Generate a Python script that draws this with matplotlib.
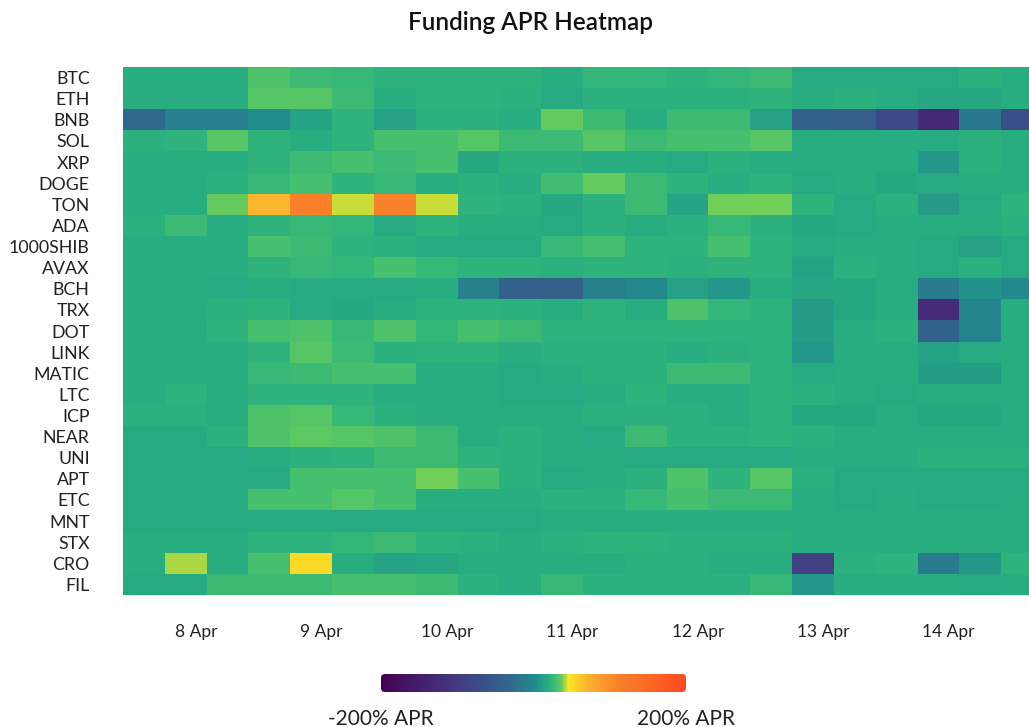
import numpy as np
import matplotlib
matplotlib.use("Agg")
import matplotlib.pyplot as plt
from matplotlib.colors import LinearSegmentedColormap, Normalize
from matplotlib.patches import FancyBboxPatch

plt.rcParams['font.family'] = ['Lato', 'DejaVu Sans']

# funding APR (%) per 8h funding window, 22 windows from 7 Apr 10:00
symbols = ['BTC', 'ETH', 'BNB', 'SOL', 'XRP', 'DOGE', 'TON', 'ADA', '1000SHIB',
           'AVAX', 'BCH', 'TRX', 'DOT', 'LINK', 'MATIC', 'LTC', 'ICP', 'NEAR',
           'UNI', 'APT', 'ETC', 'MNT', 'STX', 'CRO', 'FIL']

btc = [20, 20, 20, 32, 27, 25, 22, 22, 23, 22, 20, 24, 24, 22, 24, 27, 18, 18, 18, 18, 21, 20]
eth = [20, 20, 20, 33, 33, 27, 20, 22, 22, 21, 18, 21, 21, 21, 21, 22, 20, 21, 20, 16, 16, 19]
bnb = [-29, -9, -9, 2, 15, 22, 13, 21, 21, 19, 37, 27, 19, 27, 27, 13, -42, -44, -75, -128, -16, -70]
sol = [21, 22, 33, 22, 19, 22, 30, 30, 33, 28, 28, 33, 28, 30, 30, 33, 20, 20, 20, 19, 21, 20]
xrp = [20, 20, 20, 22, 28, 31, 27, 30, 17, 21, 21, 20, 19, 18, 21, 19, 20, 20, 20, 9, 21, 20]
doge = [20, 20, 21, 25, 30, 23, 25, 19, 21, 19, 29, 36, 27, 22, 20, 22, 18, 20, 17, 18, 20, 20]
ton = [20, 20, 36, 70, 112, 42.5, 110, 43, 22, 21, 16, 21, 28, 15, 38, 38, 23, 18, 21, 10, 18, 22]
ada = [21, 27, 20, 22, 26, 24, 18, 23, 19, 19, 18, 21, 19, 21, 26, 21, 17, 18, 20, 20, 20, 21]
shib1000 = [20, 20, 20, 31, 28, 22, 21, 18, 18, 18, 26, 30, 23, 22, 30, 22, 18, 19, 19, 18, 14, 18]
avax = [20, 20, 20, 22, 25, 24, 31, 26, 22, 22, 21, 23, 22, 21, 23, 23, 15, 21, 19, 18, 21, 18]
bch = [20, 20, 18, 19, 18, 18, 18, 19, -8, -40, -40, -7, -1, 13, 9, 20, 17, 16, 20, -12, 7, 1]
trx = [20, 20, 21, 22, 18, 17, 20, 22, 23, 21, 20, 22, 20, 32, 24, 22, 10, 17, 20, -124, -6, 20]
dot = [20, 20, 22, 31, 32, 26, 32, 24, 30, 27, 22, 22, 22, 23, 23, 22, 11, 19, 21, -38, -6, 20]
link = [20, 20, 20, 22, 34, 27, 21, 22, 22, 19, 21, 21, 21, 20, 21, 23, 8, 20, 20, 15, 18, 20]
matic = [20, 20, 20, 26, 27, 31, 31, 20, 20, 18, 20, 21, 21, 28, 28, 22, 18, 20, 20, 12, 12, 20]
ltc = [20, 22, 20, 22, 22, 23, 20, 19, 19, 18, 18, 20, 22, 19, 19, 23, 21, 19, 18, 20, 20, 20]
icp = [21, 21, 20, 32, 34, 26, 21, 19, 19, 19, 20, 21, 21, 21, 20, 23, 16, 17, 20, 17, 17, 20]
near = [18, 18, 21, 32, 35, 34, 32, 28, 20, 21, 19, 18, 27, 21, 21, 22, 21, 19, 20, 20, 20, 20]
uni = [18, 18, 18, 20, 21, 22, 27, 27, 22, 21, 20, 20, 18, 18, 18, 18, 20, 20, 20, 21, 21, 21]
apt = [18, 18, 18, 18, 30, 30, 31, 38, 31, 21, 18, 20, 21, 32, 22, 33, 21, 18, 18, 18, 18, 18]
etc = [18, 18, 18, 31, 31, 33, 31, 19, 19, 20, 21, 21, 26, 30, 27, 27, 20, 18, 20, 18, 18, 19]
mnt = [18, 18, 18, 18, 18, 18, 18, 18, 18, 18, 19, 20, 20, 20, 20, 20, 20, 20, 20, 20, 20, 20]
stx = [20, 19, 19, 22, 23, 24, 27, 23, 21, 19, 21, 23, 23, 21, 21, 21, 20, 20, 19, 19, 19, 19]
cro = [20, 42, 19, 31, 52, 19, 15, 17, 20, 19, 19, 19, 21, 21, 19, 20, -90, 21, 23, -14, 8, 23]
fil = [18, 18, 27, 27, 28, 31, 31, 28, 21, 20, 26, 21, 21, 21, 21, 25, 9, 20, 19, 19, 18, 20]

day_labels = ['8 Apr', '9 Apr', '10 Apr', '11 Apr', '12 Apr', '13 Apr', '14 Apr']
first_hour = 10      # start of first window, hours after 7 Apr 00:00
window_hours = 8

# colour scale (-200 .. 200 % APR)
stops = [-200, -100, -32, 4, 20, 30, 38, 46, 72, 112, 200]
vir = plt.get_cmap('viridis')
stop_colors = [vir(p) for p in [0.0, 0.17, 0.33, 0.49, 0.625, 0.70, 0.77, 1.0]] + \
              ['#fbb22f', '#f98029', '#ff4a20']
vmin, vmax = -200, 200
cmap = LinearSegmentedColormap.from_list(
    'apr', [((s - vmin) / (vmax - vmin), c) for s, c in zip(stops, stop_colors)])
norm = Normalize(vmin, vmax)

data = np.array([btc, eth, bnb, sol, xrp, doge, ton, ada, shib1000, avax, bch, trx,
                 dot, link, matic, ltc, icp, near, uni, apt, etc, mnt, stx, cro, fil])

W, H = 1029, 727
fig = plt.figure(figsize=(W / 100, H / 100), dpi=100)

n_win = data.shape[1]
ax = fig.add_axes([123 / W, 1 - 595 / H, n_win * 41.8 / W, 528 / H])
x_end = first_hour + n_win * window_hours
im = ax.imshow(data, cmap=cmap, norm=norm, aspect='auto', interpolation='nearest',
               extent=[first_hour, x_end, len(symbols) - 0.5, -0.5])
ax.set_yticks(range(len(symbols)))
ax.set_yticklabels(symbols, fontsize=12.8, color='#222222')
ax.set_xticks([24 * (i + 1) for i in range(len(day_labels))])
ax.set_xticklabels(day_labels, fontsize=12.5, color='#222222')
ax.tick_params(axis='y', length=0, pad=24)
ax.tick_params(axis='x', length=0, pad=21)
for s in ax.spines.values():
    s.set_visible(False)

fig.text(531 / W, 1 - 23 / H, 'Funding APR Heatmap', ha='center', va='center',
         fontsize=17.5, fontweight='semibold', color='#111111')

# colour bar with rounded ends
cax = fig.add_axes([381 / W, 1 - 692 / H, 305 / W, 18 / H])
cb = fig.colorbar(im, cax=cax, orientation='horizontal')
cb.outline.set_visible(False)
cb.set_ticks([vmin, vmax])
cb.set_ticklabels(['-200% APR', '200% APR'])
cax.tick_params(length=0, pad=12, labelsize=15, labelcolor='#222222')
box = FancyBboxPatch((0, 0), 1, 1, boxstyle='round,pad=0,rounding_size=0.014',
                     mutation_aspect=305 / 18, transform=cax.transAxes,
                     facecolor='none', edgecolor='none')
cax.add_patch(box)
cb.solids.set_clip_path(box)

fig.savefig('out.png', dpi=100)
